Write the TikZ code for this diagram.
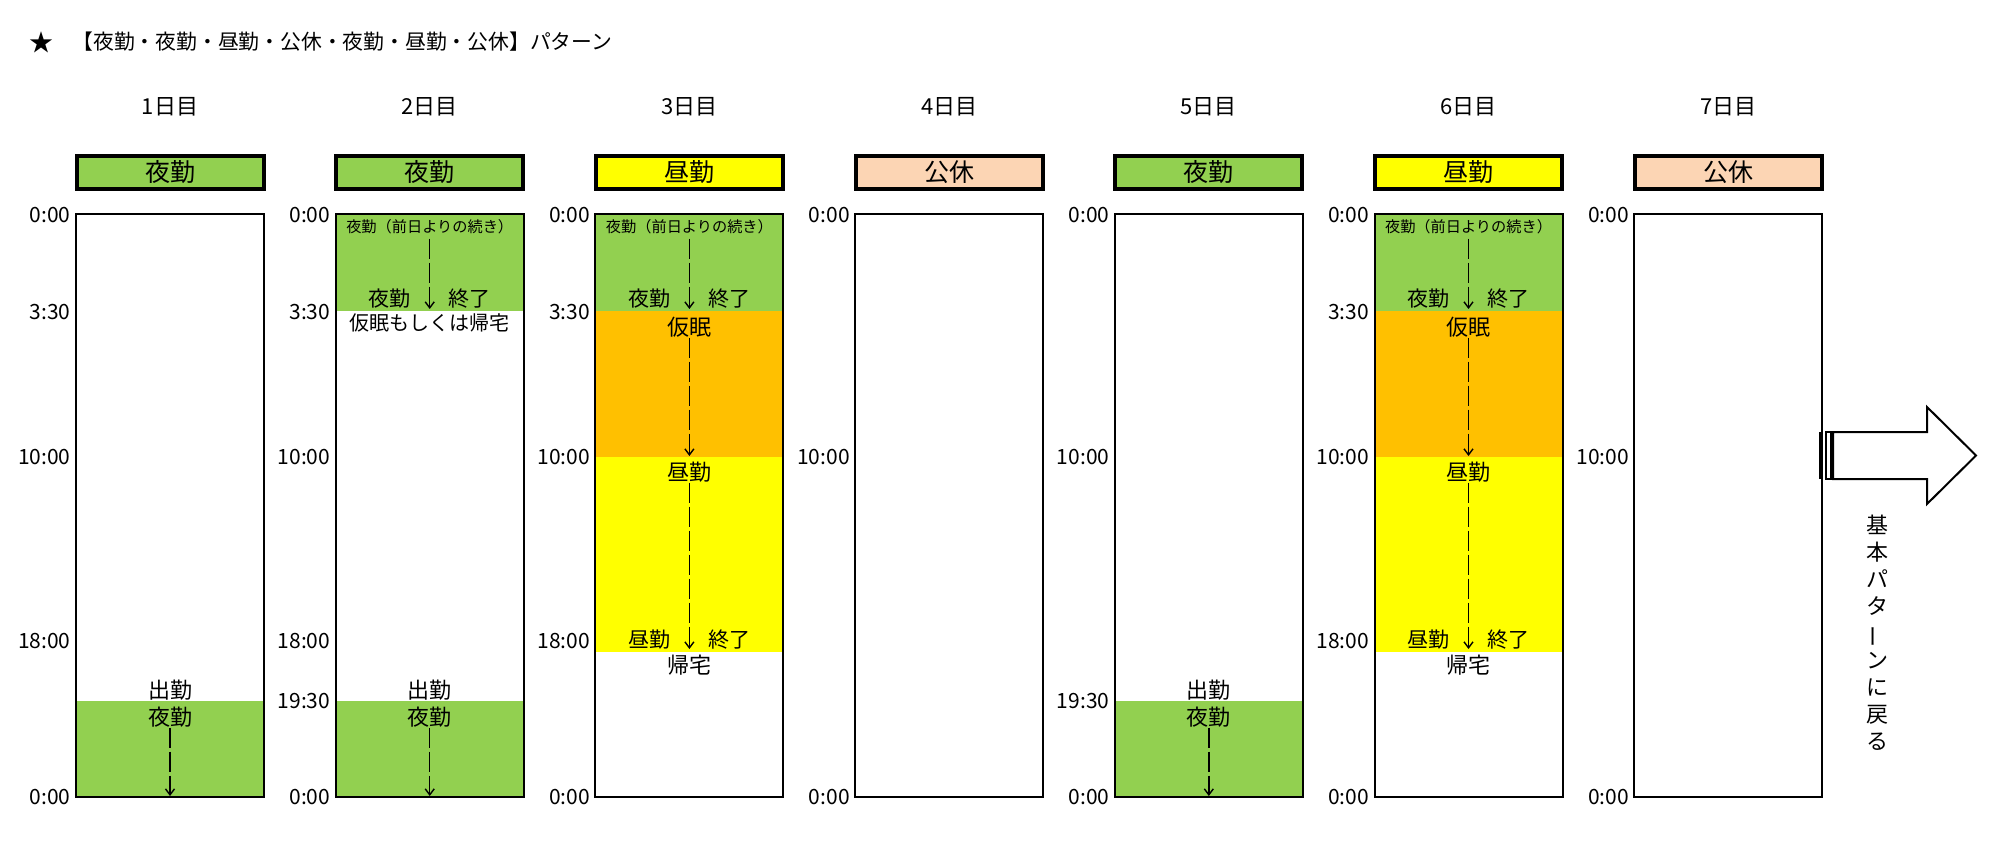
\documentclass[tikz,border=0pt]{standalone}
\usepackage{fontspec}
\setmainfont{Noto Sans CJK JP}
\usepackage{graphicx}
\usepackage{tikz}
\usetikzlibrary{arrows.meta, positioning}

\definecolor{nightc}{RGB}{146,208,80}
\definecolor{dayc}{RGB}{255,255,0}
\definecolor{napc}{RGB}{255,192,0}
\definecolor{offc}{RGB}{252,213,180}

\begin{document}
\begin{tikzpicture}[
    x=0.5pt, y=-0.5pt,
    >={Straight Barb[length=3pt,width=4.5pt]},
    head/.style={draw, line width=2pt, minimum width=93.5pt,
                 minimum height=16.5pt, inner sep=0pt,
                 font=\fontsize{12.5}{14}\selectfont},
    col/.style={draw, line width=1pt, minimum width=94pt,
                minimum height=291.5pt, inner sep=0pt},
    daylbl/.style={font=\fontsize{11}{13}\selectfont, inner sep=0pt},
    tlbl/.style={font=\fontsize{10.5}{12}\selectfont, anchor=east,
                 inner sep=0pt},
    big/.style={font=\fontsize{11}{13}\selectfont, inner sep=0pt},
    mid/.style={font=\fontsize{10.5}{12}\selectfont, inner sep=0pt},
    small/.style={font=\fontsize{7.6}{9}\selectfont, inner sep=0pt},
    flow/.style={->, line width=0.7pt, dash pattern=on 10pt off 2pt}
  ]
  \useasboundingbox (0,0) rectangle (2000,844);

  % Title
  \node[font=\fontsize{12}{14}\selectfont, inner sep=0pt] (star)
    at (41,42) {★};
  \node[font=\fontsize{10.4}{12}\selectfont, inner sep=0pt, anchor=west]
    (title) at (72,42) {【夜勤・夜勤・昼勤・公休・夜勤・昼勤・公休】パターン};

  % Shift blocks (fills first)
  \foreach \i in {1,2,5} {
    \pgfmathsetmacro{\xl}{76+259.7*(\i-1)}
    \fill[nightc] (\xl,701) rectangle (\xl+188,797);
  }
  \foreach \i in {2,3,6} {
    \pgfmathsetmacro{\xl}{76+259.7*(\i-1)}
    \fill[nightc] (\xl,214) rectangle (\xl+188,311);
  }
  \foreach \i in {3,6} {
    \pgfmathsetmacro{\xl}{76+259.7*(\i-1)}
    \fill[napc] (\xl,311) rectangle (\xl+188,457);
    \fill[dayc] (\xl,457) rectangle (\xl+188,652);
  }

  % Day columns
  \foreach \i/\hd/\hc in {1/夜勤/nightc, 2/夜勤/nightc, 3/昼勤/dayc,
                          4/公休/offc, 5/夜勤/nightc, 6/昼勤/dayc,
                          7/公休/offc} {
    \pgfmathsetmacro{\xl}{76+259.7*(\i-1)}
    \node[daylbl] (d\i) at (\xl+94,107) {\i 日目};
    \node[head, fill=\hc] (h\i) at (\xl+94,172.5) {\hd};
    \node[col] (c\i) at (\xl+94,505.5) {};
    \node[tlbl] (tt\i) at (\xl-5,215) {0:00};
    \node[tlbl] (tm\i) at (\xl-5,457) {10:00};
    \node[tlbl] (tb\i) at (\xl-5,797) {0:00};
  }
  \foreach \i in {1,2,3,6} {
    \pgfmathsetmacro{\xl}{76+259.7*(\i-1)}
    \node[tlbl] (ta\i) at (\xl-5,312) {3:30};
    \node[tlbl] (te\i) at (\xl-5,641) {18:00};
  }
  \foreach \i in {2,5} {
    \pgfmathsetmacro{\xl}{76+259.7*(\i-1)}
    \node[tlbl] (tn\i) at (\xl-5,701) {19:30};
  }

  % Night shift start
  \foreach \i in {1,2,5} {
    \pgfmathsetmacro{\xc}{170+259.7*(\i-1)}
    \node[big] (go\i) at (\xc,690) {出勤};
    \node[big, below=3pt of go\i] (ns\i) {夜勤};
    \coordinate (nend\i) at (\xc,796);
    \draw[flow] (ns\i) -- (nend\i);
  }

  % Night shift continued from the day before
  \foreach \i in {2,3,6} {
    \pgfmathsetmacro{\xc}{170+259.7*(\i-1)}
    \node[small] (cont\i) at (\xc,227) {夜勤（前日よりの続き）};
    \node[mid] (ne\i) at (\xc,299) {夜勤\hspace{19pt}終了};
    \coordinate (cend\i) at (\xc,309);
    \draw[flow, shorten <=2pt] (cont\i) -- (cend\i);
  }
  \node[font=\fontsize{10}{12}\selectfont, inner sep=0pt] (rest2)
    at (429.7,323) {仮眠もしくは帰宅};

  % Nap and day shift
  \foreach \i in {3,6} {
    \pgfmathsetmacro{\xc}{170+259.7*(\i-1)}
    \node[big] (nap\i) at (\xc,327) {仮眠};
    \coordinate (napend\i) at (\xc,456);
    \draw[flow] (nap\i) -- (napend\i);
    \node[big] (ds\i) at (\xc,472) {昼勤};
    \node[mid] (de\i) at (\xc,640) {昼勤\hspace{19pt}終了};
    \coordinate (dend\i) at (\xc,649);
    \draw[flow] (ds\i) -- (dend\i);
    \node[big] (home\i) at (\xc,665) {帰宅};
  }

  % Back to the basic pattern
  \fill (1819,432) rectangle (1823,479);
  \draw[line width=1pt, fill=white] (1826,432) rectangle (1831,479);
  \draw[line width=1pt, fill=white, line join=miter]
    (1833,432) -- (1927,432) -- (1927,407) -- (1976,455.5)
    -- (1927,504) -- (1927,479) -- (1833,479) -- cycle;
  \node[font=\fontsize{11}{13.5}\selectfont, inner sep=0pt, align=center]
    (back) at (1877,632.5)
    {基\\本\\パ\\タ\\\rotatebox[origin=c]{90}{ー}\\ン\\に\\戻\\る};
\end{tikzpicture}
\end{document}
